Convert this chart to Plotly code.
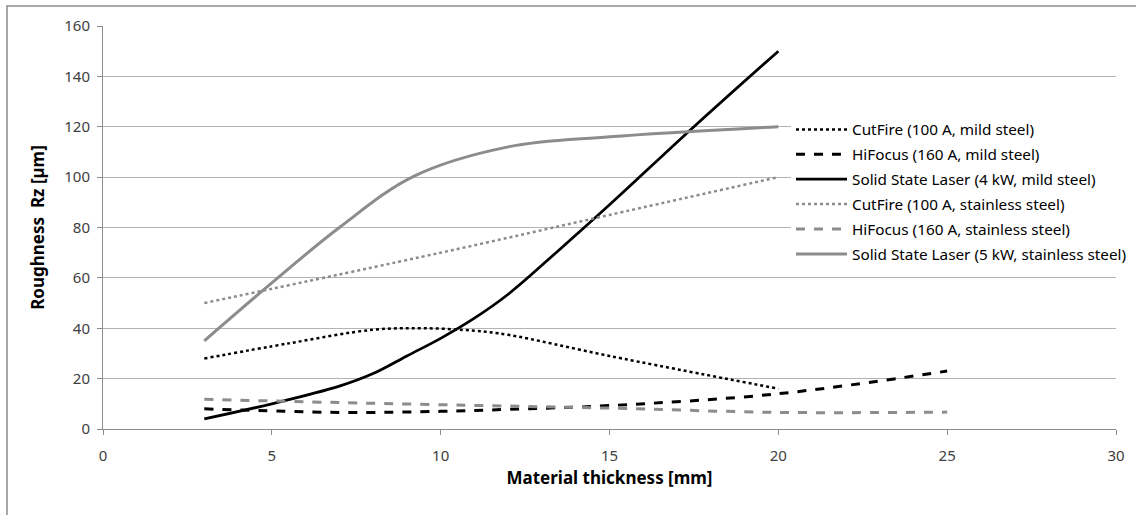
import plotly.graph_objects as go

# Data
cf_mild_x = [3, 5.5, 8, 9.5, 11, 12, 15, 20]
cf_mild_y = [28, 34, 39.4, 40, 39, 37.4, 29, 16]
hf_mild_x = [3, 7, 10, 12, 15, 20, 25]
hf_mild_y = [8, 6.6, 7, 7.8, 9.3, 14, 23]
ssl_mild_x = [3, 5, 7, 8, 9, 10, 11, 12, 13.5, 15, 17.5, 20]
ssl_mild_y = [4, 10, 17, 22, 29, 36, 44, 53.5, 71, 89, 120, 150]
cf_ss_x = [3, 10, 15, 20]
cf_ss_y = [50, 70, 85, 100]
hf_ss_x = [3, 7, 12, 15, 20, 25]
hf_ss_y = [11.8, 10.5, 9.1, 8.3, 6.6, 6.7]
ssl_ss_x = [3, 5, 7, 9.2, 12, 15, 20]
ssl_ss_y = [35, 58, 80, 100.3, 112, 116, 120]

names = [
    "CutFire (100 A, mild steel)",
    "HiFocus (160 A, mild steel)",
    "Solid State Laser (4 kW, mild steel)",
    "CutFire (100 A, stainless steel)",
    "HiFocus (160 A, stainless steel)",
    "Solid State Laser (5 kW, stainless steel)",
]

BLACK = "#000000"
GRAY = "#8c8c8c"
series = [
    (cf_mild_x, cf_mild_y, BLACK, "dot", 2.5),
    (hf_mild_x, hf_mild_y, BLACK, "dash", 3),
    (ssl_mild_x, ssl_mild_y, BLACK, "solid", 2.75),
    (cf_ss_x, cf_ss_y, GRAY, "dot", 2.5),
    (hf_ss_x, hf_ss_y, GRAY, "dash", 3),
    (ssl_ss_x, ssl_ss_y, GRAY, "solid", 3),
]

FONT = "Noto Sans"
fig = go.Figure()
for i, ((x, y, c, d, w), n) in enumerate(zip(series, names)):
    fig.add_trace(go.Scatter(
        x=x, y=y, name=n, mode="lines", legendgroup=f"g{i}",
        line=dict(color=c, dash=d, width=w, shape="spline", smoothing=1.0),
    ))

W, H = 1136, 515
L, R, T, B = 103, 20, 26, 86
pw, ph = W - L - R, H - T - B

def px_x(p):
    return (p - L) / pw

def px_y(p):
    return (H - B - p) / ph

fig.add_shape(type="rect", xref="paper", yref="paper",
              x0=px_x(7), x1=px_x(1150), y0=px_y(530), y1=px_y(6),
              line=dict(color="#8c8c8c", width=1.5), fillcolor="rgba(0,0,0,0)", layer="below")

fig.update_layout(
    width=W, height=H,
    margin=dict(l=L, r=R, t=T, b=B, autoexpand=False),
    paper_bgcolor="white", plot_bgcolor="white",
    font=dict(family=FONT, size=15, color="#404040"),
    showlegend=True,
    legend=dict(xref="container", yref="container",
                x=791 / W, y=1 - 113 / H, xanchor="left", yanchor="top",
                bgcolor="white", font=dict(family=FONT, size=15.3, color="#000000"),
                tracegroupgap=2, itemwidth=51),
    xaxis=dict(range=[0, 30], tickvals=[0, 5, 10, 15, 20, 25, 30],
               showgrid=False, showline=True, linecolor="#8c8c8c", linewidth=1,
               ticks="outside", ticklen=5, tickcolor="#8c8c8c",
               ticklabelstandoff=8,
               tickfont=dict(family=FONT, size=15, color="#404040"),
               zeroline=False,
               title=dict(text="<b>Material thickness [mm]</b>",
                          font=dict(family=FONT, size=17, color="#000000"), standoff=8)),
    yaxis=dict(range=[0, 160], tickvals=[0, 20, 40, 60, 80, 100, 120, 140, 160],
               showgrid=True, gridcolor="#b4b4b4", gridwidth=1,
               showline=True, linecolor="#8c8c8c", linewidth=1,
               ticks="outside", ticklen=5, tickcolor="#8c8c8c",
               ticklabelstandoff=4,
               tickfont=dict(family=FONT, size=15, color="#404040"),
               zeroline=False,
               title=dict(text="<b>Roughness  Rz [µm]</b>",
                          font=dict(family=FONT, size=17, color="#000000"), standoff=15)),
)

fig.write_html("out.html", config={"displayModeBar": False},
               post_script="document.body.style.margin='0';")
